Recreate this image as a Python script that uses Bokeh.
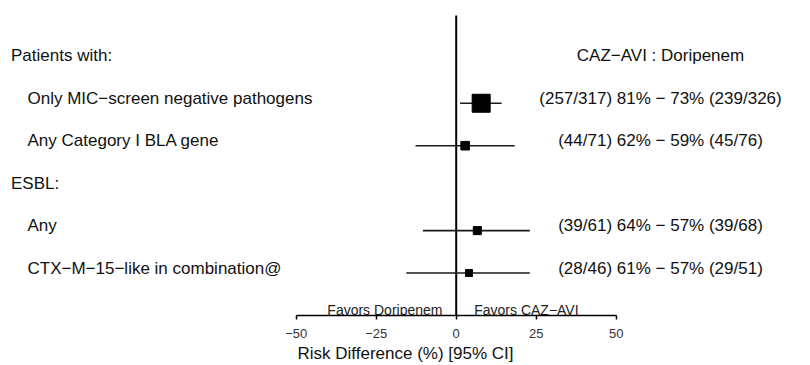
import math
from bokeh.plotting import figure
from bokeh.models import Range1d, FixedTicker, ColumnDataSource
from bokeh.core.properties import value
from bokeh.embed import file_html
from bokeh.resources import INLINE

# ---------------- data ----------------
group_titles = ["Patients with:", "ESBL:"]
subgroups = [
    "Only MIC\u2212screen negative pathogens",
    "Any Category I BLA gene",
    "Any",
    "CTX\u2212M\u221215\u2212like in combination@",
]
subgroup_group = [0, 0, 1, 1]
caz_resp = [257, 44, 39, 28]
caz_n = [317, 71, 61, 46]
dor_resp = [239, 45, 39, 29]
dor_n = [326, 76, 68, 51]
risk_diff = [7.8, 2.8, 6.6, 4.0]
ci_low = [1.2, -12.7, -10.4, -15.6]
ci_high = [14.2, 18.3, 23.0, 23.0]
x_ticks = [-50, -25, 0, 25, 50]
column_header = "CAZ\u2212AVI : Doripenem"
favors_left = "Favors Doripenem"
favors_right = "Favors CAZ\u2212AVI"
x_label = "Risk Difference (%) [95% CI]"

# ---------------- layout ----------------
FONT = "Liberation Sans"
W, H = 810, 365
BOTTOM = 50
FRAME_H = H - BOTTOM
PX_PER_UNIT = 3.2
ZERO_PX = 455.7
ROW_PX = 42.45
TEXT_DY = -5

def px_to_x(px):
    return (px - ZERO_PX) / PX_PER_UNIT

# row assignment: group header followed by its subgroups
header_rows = []
sub_rows = [0] * len(subgroups)
r = 0
for g, title in enumerate(group_titles):
    header_rows.append(r)
    r += 1
    for i, gg in enumerate(subgroup_group):
        if gg == g:
            sub_rows[i] = r
            r += 1
axis_row = r
top_row = axis_row - (FRAME_H - 15) / ROW_PX

p = figure(
    width=W, height=H, output_backend="svg", toolbar_location=None,
    x_range=Range1d(px_to_x(0), px_to_x(W)),
    y_range=Range1d(axis_row, axis_row - FRAME_H / ROW_PX),
    y_axis_location=None,
    min_border_left=0, min_border_right=0, min_border_top=0,
    min_border_bottom=BOTTOM,
)
p.outline_line_color = None
p.xgrid.visible = False
p.ygrid.visible = False
p.background_fill_color = "white"
p.border_fill_color = "white"

# zero reference line
p.segment(x0=[0], x1=[0], y0=[axis_row], y1=[top_row],
          line_color="black", line_width=2)

# CI whiskers and boxes
sizes = [0.71 * math.sqrt(a + b) for a, b in zip(caz_n, dor_n)]
src = ColumnDataSource(dict(row=sub_rows, rd=risk_diff, lo=ci_low, hi=ci_high, size=sizes))
p.segment(x0="lo", x1="hi", y0="row", y1="row", source=src, line_color="#1a1a1a", line_width=1.6)
p.scatter(x="rd", y="row", size="size", marker="square", source=src,
          fill_color="black", line_color="black")

# left labels
p.text(x=[px_to_x(10.5)] * len(group_titles), y=header_rows, text=group_titles,
       text_font=value(FONT), text_font_size="17px", text_color="#111",
       text_baseline="alphabetic", text_align="left", y_offset=TEXT_DY)
p.text(x=[px_to_x(27)] * len(subgroups), y=sub_rows, text=subgroups,
       text_font=value(FONT), text_font_size="17px", text_color="#111",
       text_baseline="alphabetic", text_align="left", y_offset=TEXT_DY)

# right labels
right_texts = [
    f"({a}/{b}) {round(100 * a / b)}% \u2212 {round(100 * c / d)}% ({c}/{d})"
    for a, b, c, d in zip(caz_resp, caz_n, dor_resp, dor_n)
]
p.text(x=[px_to_x(660)] * len(right_texts), y=sub_rows, text=right_texts,
       text_font=value(FONT), text_font_size="17px", text_color="#111",
       text_baseline="alphabetic", text_align="center", y_offset=TEXT_DY)
p.text(x=[px_to_x(660)], y=[header_rows[0]], text=[column_header],
       text_font=value(FONT), text_font_size="17px", text_color="#111",
       text_baseline="alphabetic", text_align="center", y_offset=TEXT_DY)

# favors labels
p.text(x=[px_to_x(384.4), px_to_x(525.9)], y=[axis_row, axis_row],
       text=[favors_left, favors_right],
       text_font=value(FONT), text_font_size="14px", text_color="#222",
       text_baseline="alphabetic", text_align="center", y_offset=-6)

# x axis
ax = p.xaxis[0]
ax.ticker = FixedTicker(ticks=x_ticks)
ax.bounds = (x_ticks[0], x_ticks[-1])
ax.major_label_overrides = {t: str(t).replace("-", "\u2212") for t in x_ticks}
ax.minor_tick_line_color = None
ax.major_tick_in = 0
ax.major_tick_out = 4
ax.major_tick_line_width = 1.5
ax.axis_line_width = 1.5
ax.axis_line_color = "black"
ax.major_tick_line_color = "black"
ax.major_label_text_font = FONT
ax.major_label_text_font_size = "13px"
ax.major_label_text_color = "#333"
ax.major_label_standoff = 9
ax.axis_label = x_label
ax.axis_label_text_font = FONT
ax.axis_label_text_font_size = "17px"
ax.axis_label_text_font_style = "normal"
ax.axis_label_text_color = "#111"
ax.axis_label_standoff = 3

open("out.html", "w").write(file_html(p, INLINE))
